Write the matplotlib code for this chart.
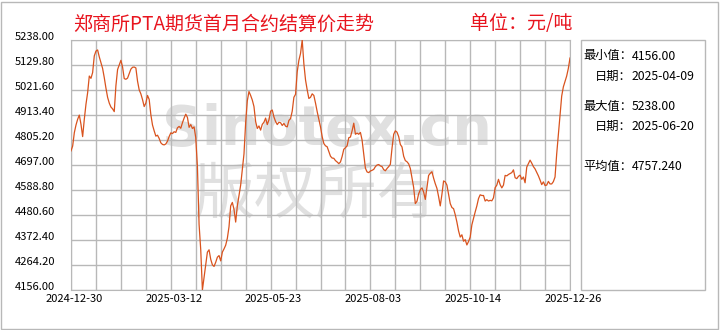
import numpy as np
import matplotlib
matplotlib.use("Agg")
from matplotlib import pyplot as plt
from matplotlib.patches import Rectangle
from matplotlib.ticker import FormatStrFormatter
from matplotlib.transforms import ScaledTranslation

plt.rcParams["font.family"] = ["Noto Sans CJK SC", "DejaVu Sans"]
plt.rcParams["axes.unicode_minus"] = False

title = "郑商所PTA期货首月合约结算价走势"
unit = "单位：元/吨"
date_labels = ["2024-12-30", "2025-03-12", "2025-05-23", "2025-08-03", "2025-10-14", "2025-12-26"]
stat_names = ["最小值：", "日期：", "最大值：", "日期：", "平均值："]
stat_values = ["4156.00", "2025-04-09", "5238.00", "2025-06-20", "4757.240"]

# 结算价（元/吨），按交易日顺序
settle_price = [
    4758, 4779, 4837, 4870, 4895, 4913, 4873, 4820, 4895, 4960, 5010, 5082, 5072, 5097,
    5169, 5190, 5195, 5165, 5140, 5115, 5075, 5030, 4990, 4965, 4948, 4940, 4928, 5040,
    5110, 5130, 5150, 5121, 5071, 5068, 5073, 5092, 5112, 5120, 5121, 5117, 5060, 5022,
    5005, 4980, 4950, 4965, 4998, 4981, 4915, 4870, 4845, 4822, 4826,
    4812, 4793, 4786, 4784, 4788, 4800, 4820, 4836, 4833, 4841, 4838, 4858, 4864, 4856,
    4880, 4900, 4917, 4903, 4860, 4872, 4855, 4862, 4815, 4690, 4440, 4330, 4156, 4210,
    4265, 4320, 4330, 4289, 4265, 4258, 4276, 4298, 4305, 4282, 4320, 4334, 4350, 4380,
    4430, 4520, 4535, 4505, 4450, 4520, 4565, 4610, 4676, 4745,
    4880, 4975, 5015, 4998, 4978, 4950, 4885, 4855, 4866, 4848, 4873, 4882, 4900, 4872,
    4892, 4930, 4935, 4905, 4885, 4872, 4882, 4880, 4868, 4877, 4865, 4862, 4890, 4898,
    4930, 4990, 5003, 5100, 5150, 5180, 5238, 5135, 5065, 5022, 4985, 4990, 5005, 4998,
    4965, 4928, 4895, 4862, 4820, 4790, 4780, 4776, 4755,
    4735, 4727, 4726, 4716, 4710, 4703, 4710, 4734, 4765, 4772, 4780, 4815, 4818, 4845,
    4878, 4830, 4835, 4830, 4838, 4805, 4743, 4683, 4667, 4664, 4671, 4674, 4678, 4690,
    4697, 4699, 4693, 4690, 4677, 4672, 4682, 4690, 4700, 4770, 4830, 4845, 4839, 4820,
    4786, 4775, 4735, 4716, 4711, 4702, 4682, 4640, 4600,
    4530, 4540, 4572, 4590, 4598, 4580, 4548, 4600, 4652, 4661, 4668, 4640, 4616, 4596,
    4560, 4520, 4570, 4628, 4624, 4610, 4570, 4530, 4513, 4508, 4482, 4450, 4412, 4385,
    4395, 4367, 4374, 4351, 4366, 4385, 4438, 4466, 4494, 4520, 4552, 4568, 4565, 4565,
    4541, 4547, 4541, 4544, 4542, 4555, 4599, 4610, 4635,
    4612, 4598, 4610, 4652, 4650, 4656, 4660, 4664, 4676, 4642, 4638, 4648, 4653, 4635,
    4645, 4620, 4688, 4703, 4718, 4705, 4690, 4680, 4665, 4650, 4632, 4612, 4624, 4608,
    4610, 4626, 4615, 4615, 4625, 4645, 4745, 4830, 4916, 4995, 5035, 5058, 5082, 5115,
    5160,
]

y = np.array(settle_price, dtype=float)
x = np.arange(len(y))
grid_color = "#b8b8b8"

fig = plt.figure(figsize=(7.2, 3.3), dpi=100)
ax = fig.add_axes([71 / 720, 40 / 330, 499 / 720, 250 / 330])

# 水印
fig.text(0.454, 0.606, "Sinotex.cn", family="DejaVu Sans", weight="bold", fontsize=40,
         color="#e0e0e0", ha="center", va="center", zorder=-1)
fig.text(0.438, 0.409, "版权所有", fontsize=44, color="#e0e0e0", ha="center", va="center", zorder=-1)
ax.patch.set_visible(False)

ax.plot(x, y, color="#d9531e", lw=0.9, zorder=3)
ax.set_xlim(0, len(y) - 1)
ax.set_ylim(y.min(), y.max())
ax.set_yticks(np.linspace(y.min(), y.max(), 11))
ax.yaxis.set_major_formatter(FormatStrFormatter("%.2f"))
ax.set_xticks(np.linspace(0, len(y) - 1, len(date_labels)))
ax.set_xticklabels(date_labels)
ax.set_xticks(np.linspace(0, len(y) - 1, 21), minor=True)
ax.tick_params(which="both", length=0, labelsize=8)
ax.tick_params(axis="y", pad=11.5)
ax.tick_params(axis="x", pad=3)
ax.grid(True, which="major", color=grid_color, lw=1.0)
ax.grid(True, which="minor", axis="x", color=grid_color, lw=1.0)
for s in ax.spines.values():
    s.set_color(grid_color)
for lab in ax.get_yticklabels():
    lab.set_verticalalignment("baseline")
for lab in ax.get_xticklabels():
    lab.set_transform(lab.get_transform() + ScaledTranslation(0.03, 0, fig.dpi_scale_trans))

# 标题
fig.text(73 / 720, 1 - 24 / 330, title, fontsize=13.7, color="#e8141e", ha="left", va="center")
fig.text(470 / 720, 1 - 24 / 330, unit, fontsize=13.7, color="#e8141e", ha="left", va="center")

# 右侧统计框
fig.add_artist(Rectangle((581 / 720, 40 / 330), 124 / 720, 250 / 330, transform=fig.transFigure,
                         fill=False, ec=grid_color, lw=1))
stat_y = [56, 76, 106, 126, 166]
for name, val, yy in zip(stat_names, stat_values, stat_y):
    fig.text(632 / 720, 1 - yy / 330, name, fontsize=8.8, ha="right", va="center")
    fig.text(632 / 720, 1 - yy / 330, val, fontsize=8.8, ha="left", va="center")

# 外框
fig.add_artist(Rectangle((1 / 720, 1 / 330), 717 / 720, 327 / 330, transform=fig.transFigure,
                         fill=False, ec=grid_color, lw=1))

fig.savefig("out.png", dpi=100)
